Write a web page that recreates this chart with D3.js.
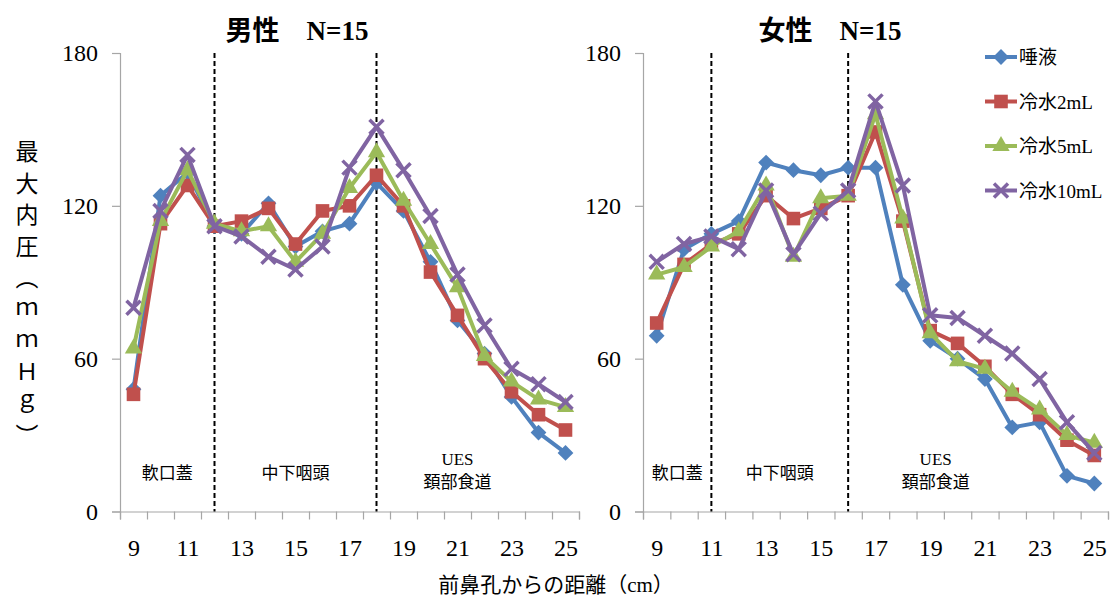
<!DOCTYPE html>
<html>
<head>
<meta charset="utf-8">
<script src="https://cdn.jsdelivr.net/npm/d3@7/dist/d3.min.js"></script>
<style>
  body { margin: 0; background: #fff; }
  svg text { font-family: "Liberation Serif", "Noto Sans CJK JP", serif; fill: #000; }
</style>
</head>
<body>
<div id="chart"></div>
<script>
// distance from the anterior nares (cm)
const categories = [9, 10, 11, 12, 13, 14, 15, 16, 17, 18, 19, 20, 21, 22, 23, 24, 25];
const seriesNames = ["唾液", "冷水2mL", "冷水5mL", "冷水10mL"];
const yTicks = [0, 60, 120, 180];
const xTickLabels = [9, 11, 13, 15, 17, 19, 21, 23, 25];

// male, N=15
const maleSaliva = [48, 124, 133, 112, 109, 121, 104, 110, 113, 129, 118, 98, 75, 62, 45, 31, 23];
const maleWater2 = [46, 113, 128, 112, 114, 119, 105, 118, 120, 132, 120, 94, 77, 60, 47, 38, 32];
const maleWater5 = [64, 114, 134, 113, 110, 112, 98, 109, 127, 141, 122, 105, 88, 61, 51, 44, 41];
const maleWater10 = [80, 118, 140, 112, 108, 100, 95, 104, 135, 151, 134, 116, 93, 73, 56, 50, 43];

// female, N=15
const femaleSaliva = [69, 103, 109, 114, 137, 134, 132, 135, 135, 89, 67, 60, 52, 33, 35, 14, 11];
const femaleWater2 = [74, 97, 105, 109, 124, 115, 119, 124, 149, 114, 71, 66, 57, 46, 38, 28, 22];
const femaleWater5 = [93, 96, 104, 110, 128, 100, 123, 124, 156, 115, 70, 59, 56, 47, 40, 30, 27];
const femaleWater10 = [98, 105, 108, 103, 126, 101, 117, 126, 161, 128, 77, 76, 69, 62, 52, 35, 23];

// region borders (dashed lines) for each panel
const maleBorders = [12, 18];
const femaleBorders = [11, 16];

const colors = ["#4F81BD", "#C0504D", "#9BBB59", "#8064A2"];

const W = 1110, H = 599;
const svg = d3.select("#chart").append("svg")
	.attr("width", W)
	.attr("height", H);

const panels = [
	{ title: "男性　N=15", titleX: 297, left: 120, right: 579,
		series: [maleSaliva, maleWater2, maleWater5, maleWater10],
		borders: maleBorders,
		regions: [{ at: 10.25, lines: ["軟口蓋"] }, { at: 15, lines: ["中下咽頭"] }, { at: 21, lines: ["UES", "頚部食道"] }] },
	{ title: "女性　N=15", titleX: 830, left: 643, right: 1108,
		series: [femaleSaliva, femaleWater2, femaleWater5, femaleWater10],
		borders: femaleBorders,
		regions: [{ at: 9.75, lines: ["軟口蓋"] }, { at: 13.5, lines: ["中下咽頭"] }, { at: 19.2, lines: ["UES", "頚部食道"] }] }
];

const plotTop = 53, plotBottom = 511.5;
const y = d3.scaleLinear().domain([0, 180]).range([plotBottom, plotTop]);

const symbols = [
	{ type: d3.symbolSquare, size: 125, rotate: 45, fill: true },
	{ type: d3.symbolSquare, size: 185, rotate: 0, fill: true },
	{ type: d3.symbolTriangle, size: 130, rotate: 0, fill: true },
	{ type: d3.symbolTimes, size: 130, rotate: 0, fill: false }
];

function drawMarker(g, i) {
	const s = symbols[i];
	g.append("path")
		.attr("d", d3.symbol().type(s.type).size(s.size)())
		.attr("transform", `rotate(${s.rotate})`)
		.attr("fill", s.fill ? colors[i] : "none")
		.attr("stroke", colors[i])
		.attr("stroke-width", s.fill ? 0 : 3.5);
}

panels.forEach((p) => {
	const x = d3.scaleLinear().domain([8.5, 25.5]).range([p.left, p.right]);
	const g = svg.append("g");

	// title
	svg.append("text")
		.attr("x", p.titleX)
		.attr("y", 40)
		.attr("text-anchor", "middle")
		.style("font-size", "27px")
		.style("font-weight", "bold")
		.text(p.title);

	// y axis
	const ya = g.append("g")
		.attr("transform", `translate(${p.left},0)`)
		.call(d3.axisLeft(y).tickValues(yTicks).tickSize(8).tickPadding(14));
	ya.selectAll("text").style("font-size", "24px");

	// x axis: ticks at category borders, labels on odd categories
	const borderTicks = d3.range(8.5, 26, 1);
	const xa = g.append("g")
		.attr("transform", `translate(0,${plotBottom})`)
		.call(d3.axisBottom(x).tickValues(borderTicks).tickSize(8).tickFormat(""));
	const xl = g.append("g")
		.attr("transform", `translate(0,${plotBottom})`)
		.call(d3.axisBottom(x).tickValues(xTickLabels).tickSize(0).tickPadding(27));
	xl.select(".domain").remove();
	xl.selectAll("text").style("font-size", "24px");

	g.selectAll(".domain, .tick line").attr("stroke", "#a6a6a6").attr("stroke-width", 1.2);

	// region borders
	g.selectAll(".border")
		.data(p.borders)
		.enter()
		.append("line")
		.attr("x1", (d) => x(d))
		.attr("x2", (d) => x(d))
		.attr("y1", plotTop)
		.attr("y2", plotBottom)
		.attr("stroke", "#000")
		.attr("stroke-width", 2)
		.attr("stroke-dasharray", "5,3");

	// region labels
	p.regions.forEach((r) => {
		const t = g.append("text")
			.attr("text-anchor", "middle")
			.style("font-size", "17px");
		if (r.lines.length === 1) {
			t.append("tspan").attr("x", x(r.at)).attr("y", 479).text(r.lines[0]);
		} else {
			t.append("tspan").attr("x", x(r.at)).attr("y", 465).text(r.lines[0]);
			t.append("tspan").attr("x", x(r.at)).attr("y", 488).text(r.lines[1]);
		}
	});

	// series
	const line = d3.line()
		.x((d, i) => x(categories[i]))
		.y((d) => y(d));

	p.series.forEach((vals, si) => {
		const sg = g.append("g");
		sg.append("path")
			.datum(vals)
			.attr("d", line)
			.attr("fill", "none")
			.attr("stroke", colors[si])
			.attr("stroke-width", 4)
			.attr("stroke-linejoin", "round");
		sg.selectAll(".pt")
			.data(vals)
			.enter()
			.append("g")
			.attr("transform", (d, i) => `translate(${x(categories[i])},${y(d)})`)
			.each(function () { drawMarker(d3.select(this), si); });
	});
});

// y axis title (vertical)
svg.append("text")
	.attr("x", 27)
	.attr("y", 140)
	.style("writing-mode", "vertical-rl")
	.style("font-size", "23px")
	.style("letter-spacing", "8.5px")
	.style("font-family", "'Noto Sans CJK JP', sans-serif")
	.text("最大内圧（ｍｍＨｇ）");

// x axis title
svg.append("text")
	.attr("x", 556)
	.attr("y", 592)
	.attr("text-anchor", "middle")
	.style("font-size", "21px")
	.text("前鼻孔からの距離（cm）");

// legend
const legend = svg.append("g");
seriesNames.forEach((name, i) => {
	const row = legend.append("g").attr("transform", `translate(1001,${57 + i * 44.5})`);
	row.append("line")
		.attr("x1", -16).attr("x2", 16)
		.attr("stroke", colors[i])
		.attr("stroke-width", 4);
	drawMarker(row, i);
	row.append("text")
		.attr("x", 18)
		.attr("y", 7)
		.style("font-size", "19px")
		.text(name);
});
</script>
</body>
</html>
